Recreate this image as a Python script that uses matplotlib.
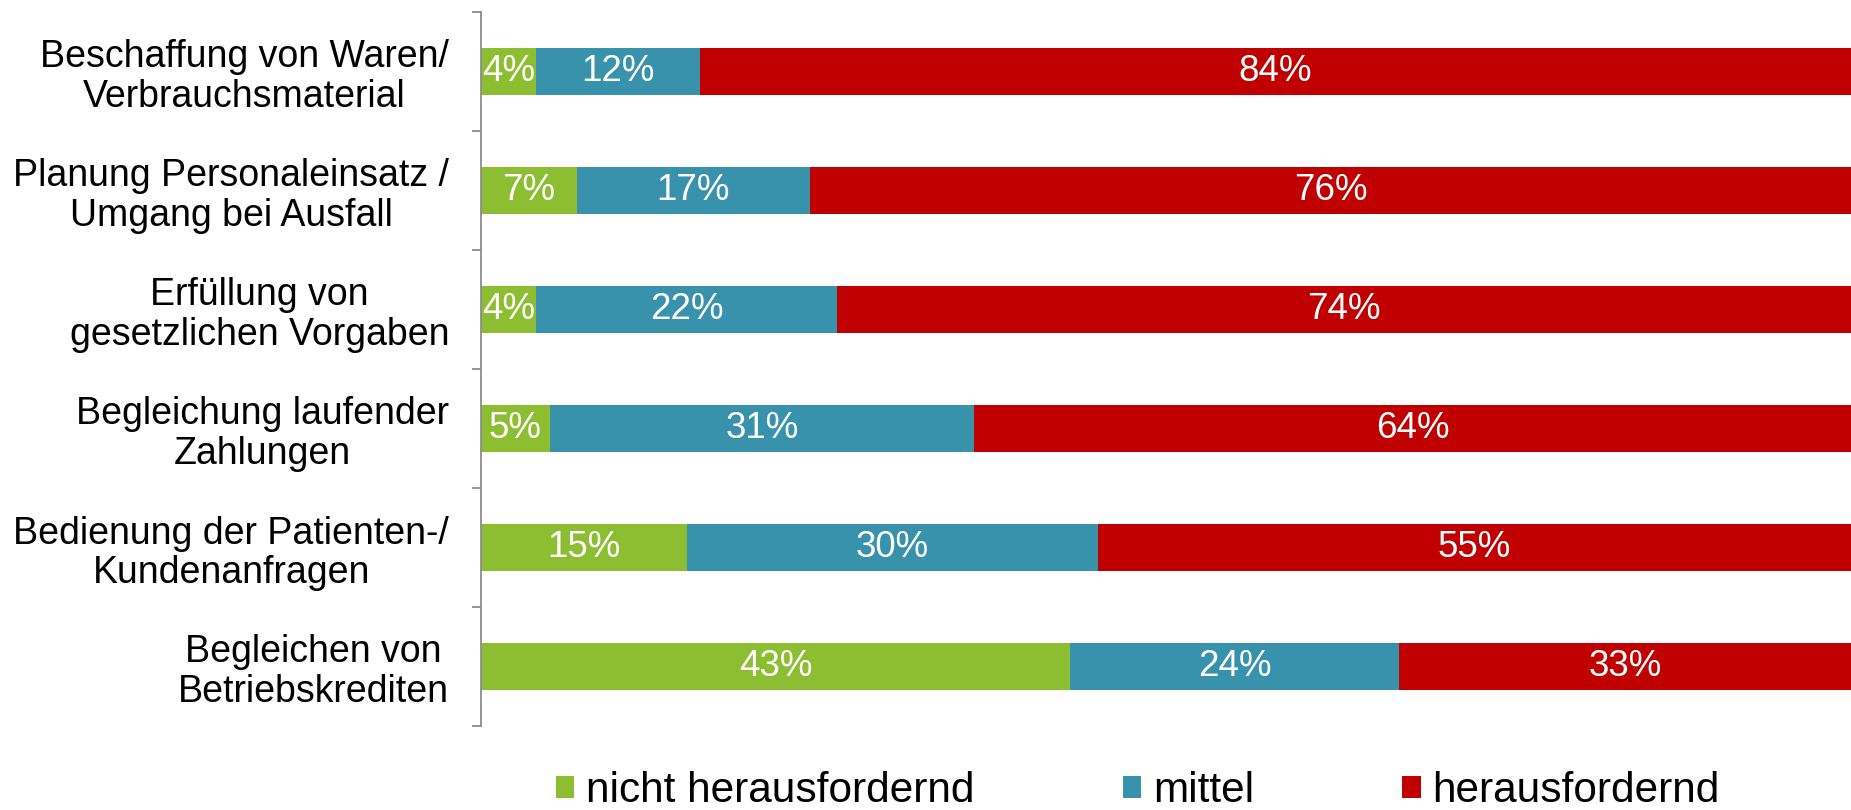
import matplotlib
matplotlib.use("Agg")
import matplotlib.pyplot as plt
import numpy as np

plt.rcParams['font.family'] = ['Liberation Sans', 'DejaVu Sans']

categories = [
    "Beschaffung von Waren/\nVerbrauchsmaterial",
    "Planung Personaleinsatz /\nUmgang bei Ausfall",
    "Erfüllung von\ngesetzlichen Vorgaben",
    "Begleichung laufender\nZahlungen",
    "Bedienung der Patienten-/\nKundenanfragen",
    "Begleichen von\nBetriebskrediten",
]
nicht = [4, 7, 4, 5, 15, 43]
mittel = [12, 17, 22, 31, 30, 24]
heraus = [84, 76, 74, 64, 55, 33]
series_names = ["nicht herausfordernd", "mittel", "herausfordernd"]
colors = ["#8DBE32", "#3892AB", "#C00000"]

W, H = 1851, 810
fig = plt.figure(figsize=(W / 100, H / 100), dpi=100)
ax = fig.add_axes([481 / W, 1 - 726 / H, 1 - 481 / W, (726 - 12) / H])

y = np.arange(len(categories))
left = np.zeros(len(categories))
for vals, name, col in zip([nicht, mittel, heraus], series_names, colors):
    bars = ax.barh(y, vals, left=left, height=0.4, color=col, label=name)
    for b, v in zip(bars, vals):
        ax.text(b.get_x() + b.get_width() / 2, b.get_y() + b.get_height() / 2,
                f"{v}%", ha="center", va="center", color="white", fontsize=26.5)
    left += np.array(vals)

ax.set_xlim(0, 100)
ax.set_ylim(len(categories) - 0.5, -0.5)
ax.set_xticks([])
for s in ["top", "right", "bottom"]:
    ax.spines[s].set_visible(False)
ax.spines["left"].set_color("#8C8C8C")
ax.spines["left"].set_linewidth(1.3)

ax.set_yticks(y)
ax.set_yticklabels(categories, fontsize=27)
for lab in ax.get_yticklabels():
    lab.set_multialignment("center")
    lab.set_linespacing(1.12)
ax.tick_params(axis="y", which="major", length=0, pad=23)
ax.set_yticks(np.arange(-0.5, len(categories)), minor=True)
ax.tick_params(axis="y", which="minor", length=6.5, width=1.3, color="#8C8C8C")

fig.legend(loc="center", bbox_to_anchor=(1138 / W, 1 - 791 / H), ncol=3,
           frameon=False, fontsize=30.5, handlelength=0.43, handleheight=0.43,
           handletextpad=0.28, columnspacing=3.5, borderpad=0)

fig.savefig("out.png", dpi=100)
